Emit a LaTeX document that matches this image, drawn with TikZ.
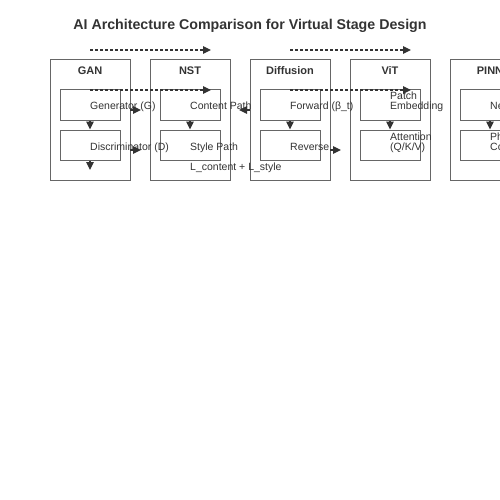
\documentclass[tikz,border=0pt]{standalone}
\usepackage{fontspec}
\setmainfont{Liberation Sans}
\usetikzlibrary{arrows.meta}
\definecolor{ink}{HTML}{333333}
\definecolor{edge}{HTML}{666666}

\begin{document}
\begin{tikzpicture}[x=1pt,y=1pt,yscale=-1,xscale=1,
  outer/.style={draw=edge,line width=1pt,minimum width=80pt,minimum height=120pt,inner sep=0pt},
  inner/.style={draw=edge,line width=1pt,fill=white,minimum width=60pt,minimum height=30pt,inner sep=0pt},
  head/.style={font=\bfseries\fontsize{11}{13}\selectfont,text=ink,inner sep=0pt},
  lbl/.style={font=\fontsize{10.5}{10}\selectfont,text=ink,inner sep=0pt,anchor=base west,align=left},
  arr/.style={draw=ink,line width=1.2pt,-{Triangle[length=8pt,width=7.5pt]}},
  flow/.style={arr,dash pattern=on 3pt off 2pt}]
\useasboundingbox (0,0) rectangle (500,500);
\clip (0,0) rectangle (500,500);

% Title
\node[font=\bfseries\fontsize{14.2}{16}\selectfont,text=ink] (title) at (250,26) {AI Architecture Comparison for Virtual Stage Design};

%Shape: Outer boxes
\node[outer] (gan) at (90,120) {};
\node[outer] (nst) at (190,120) {};
\node[outer] (dif) at (290,120) {};
\node[outer] (vit) at (390,120) {};
\node[outer] (pinn) at (490,120) {};

% Box headers
\node[head] (ganT) at (90,71) {GAN};
\node[head] (nstT) at (190,71) {NST};
\node[head] (difT) at (290,71) {Diffusion};
\node[head] (vitT) at (390,71) {ViT};
\node[head] (pinnT) at (490,71) {PINN};

%Shape: Inner boxes
\node[inner] (ganA) at (90,105) {};
\node[inner] (ganB) at (90,145) {};
\node[inner] (nstA) at (190,105) {};
\node[inner] (nstB) at (190,145) {};
\node[inner] (difA) at (290,105) {};
\node[inner] (difB) at (290,145) {};
\node[inner] (vitA) at (390,105) {};
\node[inner] (vitB) at (390,145) {};
\node[inner] (pinnA) at (490,105) {};
\node[inner] (pinnB) at (490,145) {};

% Arrow ends
\coordinate (ganOut) at (90,170);
\coordinate (g2nA) at (130,110);
\coordinate (g2nA') at (141,110);
\coordinate (g2nB) at (130,150);
\coordinate (g2nB') at (141,150);
\coordinate (d2nA) at (250,110);
\coordinate (d2nA') at (239,110);
\coordinate (d2vB) at (330,150);
\coordinate (d2vB') at (341,150);
\coordinate (topL) at (90,50);
\coordinate (topL') at (211,50);
\coordinate (topR) at (290,50);
\coordinate (topR') at (411,50);
\coordinate (midL) at (90,90);
\coordinate (midL') at (211,90);
\coordinate (midR) at (290,90);
\coordinate (midR') at (411,90);

%Straight Lines
\draw[arr] (ganA) -- (ganB);
\draw[arr] (ganB) -- (ganOut);
\draw[arr] (nstA) -- (nstB);
\draw[arr] (difA) -- (difB);
\draw[arr] (vitA) -- (vitB);
\draw[arr] (pinnA) -- (pinnB);
\draw[arr] (g2nA) -- (g2nA');
\draw[arr] (g2nB) -- (g2nB');
\draw[arr] (d2nA) -- (d2nA');
\draw[arr] (d2vB) -- (d2vB');

% Dashed flows
\draw[flow] (topL) -- (topL');
\draw[flow] (topR) -- (topR');
\draw[flow] (midL) -- (midL');
\draw[flow] (midR) -- (midR');

% Text Node
\node[lbl] (ganAt) at (90,110) {Generator (G)};
\node[lbl] (ganBt) at (90,150) {Discriminator (D)};
\node[lbl] (nstAt) at (190,110) {Content Path};
\node[lbl] (nstBt) at (190,150) {Style Path};
\node[lbl] (nstLoss) at (190,170) {L\_content + L\_style};
\node[lbl] (difAt) at (290,110) {Forward (β\_t)};
\node[lbl] (difBt) at (290,150) {Reverse};
\node[lbl] (vitAt) at (390,110) {Patch\\Embedding};
\node[lbl] (vitBt) at (390,150) {Attention\\(Q/K/V)};
\node[lbl] (pinnAt) at (490,110) {Neural Network};
\node[lbl] (pinnBt) at (490,150) {Physics\\Constraints};

\end{tikzpicture}
\end{document}
